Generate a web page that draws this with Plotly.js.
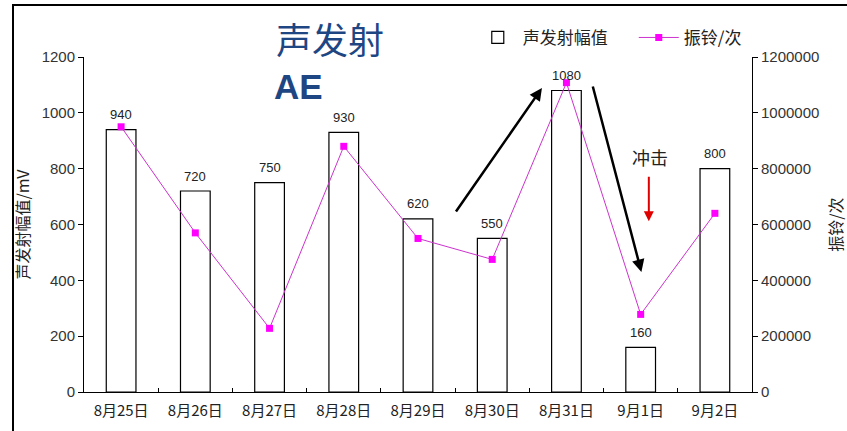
<!DOCTYPE html>
<html><head><meta charset="utf-8">
<script src="https://cdn.plot.ly/plotly-3.0.1.min.js"></script>
<style>
html,body{margin:0;padding:0;background:#fff;}
#wrap{position:relative;width:847px;height:431px;overflow:hidden;}
#chart{position:absolute;left:0;top:0;width:847px;height:431px;}
#frame{position:absolute;left:12px;top:4px;width:850px;height:440px;border-left:2px solid #000;border-top:2px solid #000;pointer-events:none;}
</style></head>
<body>
<div id="wrap"><div id="chart"></div><div id="frame"></div></div>
<script>
const categories = ["8月25日","8月26日","8月27日","8月28日","8月29日","8月30日","8月31日","9月1日","9月2日"];
const aeAmplitude = [940, 720, 750, 930, 620, 550, 1080, 160, 800];
const ringCount = [950000, 570000, 228000, 880000, 550000, 475000, 1108000, 278000, 640000];

const tickFont = {family: "Liberation Sans, DejaVu Sans, sans-serif", size: 15, color: "#333"};
const cjk = "Noto Sans CJK SC, sans-serif";

const traces = [
  {
    type: "bar", name: "声发射幅值", x: categories, y: aeAmplitude,
    width: 0.4,
    marker: {color: "#ffffff", line: {color: "#000", width: 1.2}},
    yaxis: "y"
  },
  {
    type: "scatter", mode: "lines+markers", name: "振铃/次", x: categories, y: ringCount,
    line: {color: "#cc33cc", width: 1},
    marker: {symbol: "square", color: "#ff00ff", size: 7},
    yaxis: "y2"
  }
];

const barLabels = categories.map((c, i) => ({
  xref: "x", yref: "y", x: c, y: aeAmplitude[i], yshift: 15, showarrow: false,
  text: String(aeAmplitude[i]),
  font: {family: "Liberation Sans, sans-serif", size: 13, color: "#222"}
}));

const layout = {
  width: 847, height: 431,
  margin: {l: 84, r: 95, t: 57, b: 39, autoexpand: false},
  paper_bgcolor: "#fff", plot_bgcolor: "#fff",
  showlegend: true,
  legend: {orientation: "h", x: 0.582, y: 1.057, xanchor: "left", yanchor: "middle",
           bgcolor: "rgba(0,0,0,0)",
           font: {family: cjk, size: 17, color: "#222"}, itemwidth: 40, tracegroupgap: 0,
           entrywidth: 106},
  xaxis: {
    type: "category", range: [-0.5, 8.5],
    showline: true, linecolor: "#000", linewidth: 1,
    ticks: "inside", tickson: "boundaries", ticklen: 4, tickcolor: "#000",
    tickfont: {family: cjk, size: 15, color: "#222"}, ticklabelstandoff: 5,
    showgrid: false, zeroline: false, fixedrange: true
  },
  yaxis: {
    range: [0, 1200], dtick: 200,
    showline: true, linecolor: "#000", linewidth: 1,
    ticks: "outside", ticklen: 5, tickcolor: "#000",
    tickfont: tickFont, showgrid: false, zeroline: false,
    title: {text: "声发射幅值/mV", font: {family: cjk, size: 16, color: "#222"}, standoff: 8}
  },
  yaxis2: {
    range: [0, 1200000], dtick: 200000, overlaying: "y", side: "right",
    showline: true, linecolor: "#000", linewidth: 1,
    ticks: "outside", ticklen: 5, tickcolor: "#000",
    tickformat: "d",
    tickfont: tickFont, showgrid: false, zeroline: false,
    title: {text: "振铃/次", font: {family: cjk, size: 16, color: "#222"}, standoff: 14}
  },
  annotations: barLabels.concat([
    {xref: "paper", yref: "paper", x: (274-84)/668, y: (392-38)/335, xanchor: "left", yanchor: "middle",
     text: "声发射", showarrow: false, font: {family: cjk, size: 36, color: "#1e4683"}},
    {xref: "paper", yref: "paper", x: (272-84)/668, y: (392-86)/335, xanchor: "left", yanchor: "middle",
     text: "<b>AE</b>", showarrow: false, font: {family: "Liberation Sans, Arial, sans-serif", size: 35, color: "#1e4683"}},
    {xref: "x", yref: "y", x: 5.67, y: 1089, ax: -87, ay: 125, showarrow: true,
     arrowhead: 2, arrowsize: 1, arrowwidth: 2.5, arrowcolor: "#000", text: ""},
    {xref: "x", yref: "y", x: 7.01, y: 430, ax: -49, ay: -187, showarrow: true,
     arrowhead: 2, arrowsize: 1, arrowwidth: 2.5, arrowcolor: "#000", text: ""},
    {xref: "x", yref: "y", x: 7.11, y: 612, ax: 0, ay: -46, showarrow: true,
     arrowhead: 2, arrowsize: 1, arrowwidth: 2, arrowcolor: "#e00000", text: ""},
    {xref: "x", yref: "y", x: 7.13, y: 842, showarrow: false, text: "冲击",
     font: {family: cjk, size: 18, color: "#222"}}
  ])
};

Plotly.newPlot("chart", traces, layout, {displayModeBar: false, staticPlot: true});
</script>
</body></html>
